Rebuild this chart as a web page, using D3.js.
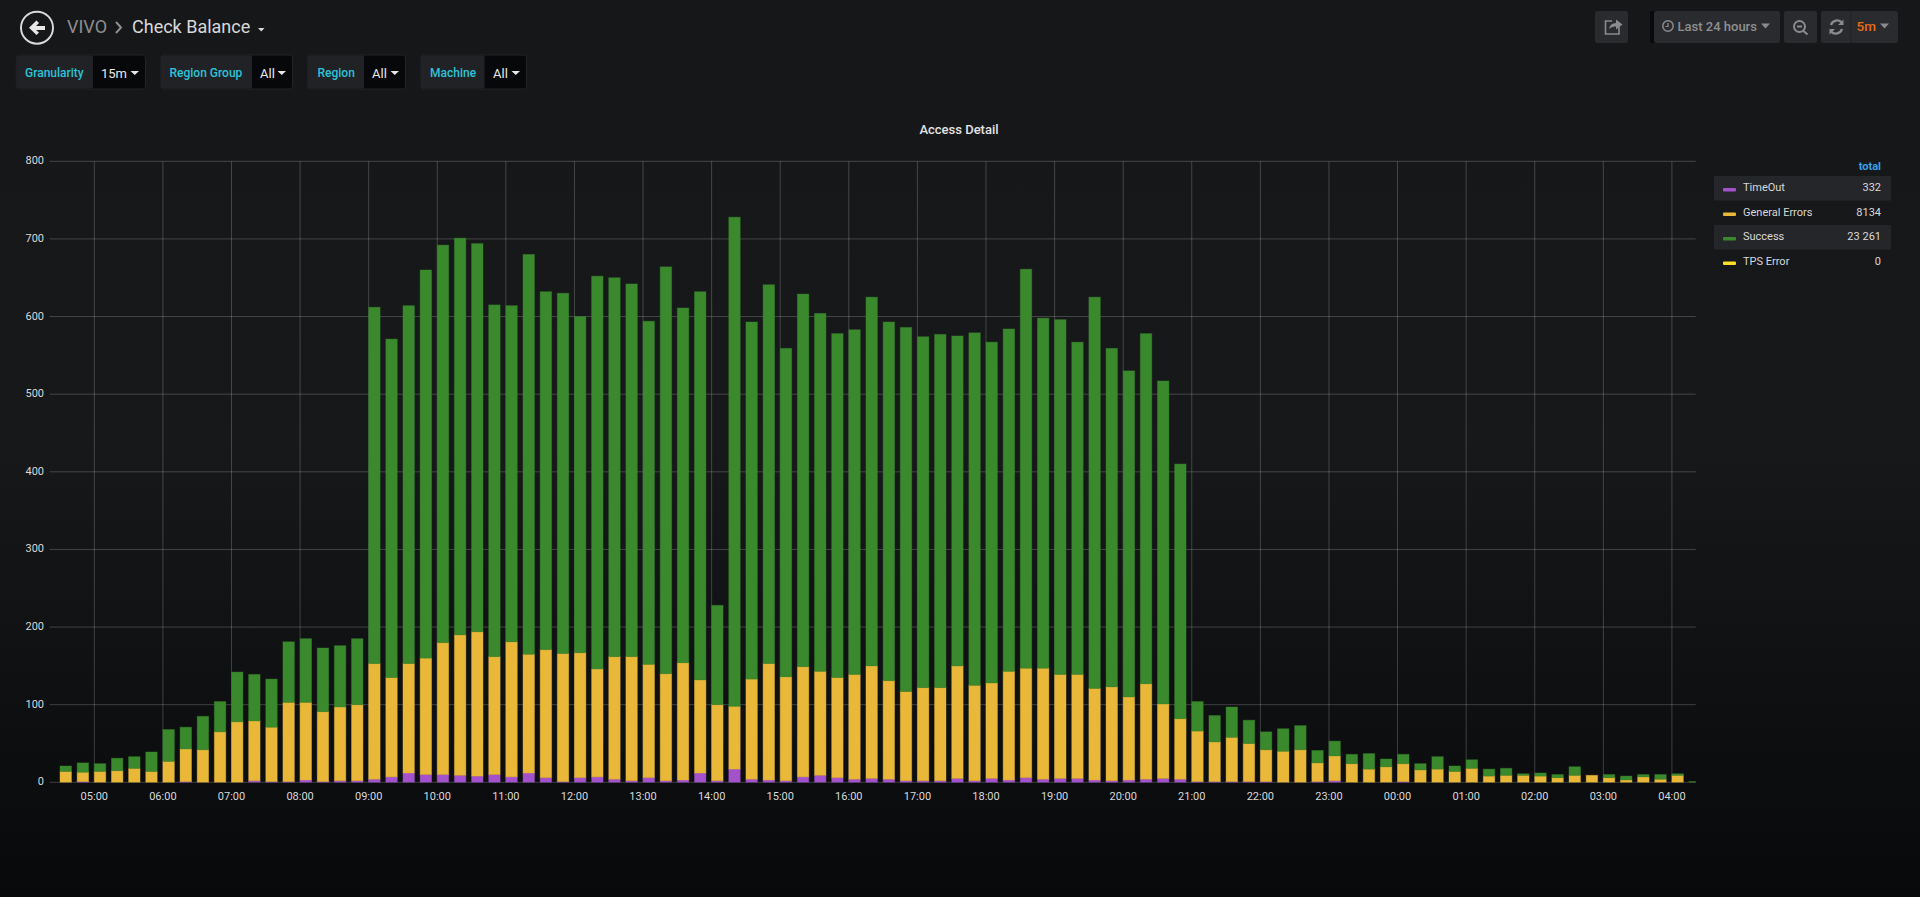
<!DOCTYPE html>
<html><head><meta charset="utf-8"><title>Check Balance</title>
<script src="https://cdn.jsdelivr.net/npm/d3@7"></script>
<style>
html,body{margin:0;padding:0;width:1920px;height:897px;overflow:hidden;background:#0b0c0e}
svg{display:block;font-family:Roboto,sans-serif}
</style></head><body><div id="chart"></div>
<script>
const timeLabels = ["05:00","06:00","07:00","08:00","09:00","10:00","11:00","12:00","13:00","14:00","15:00","16:00","17:00","18:00","19:00","20:00","21:00","22:00","23:00","00:00","01:00","02:00","03:00","04:00"];
const timeOut = [0,1,0,0,0,0,0,1,0,0,0,2,1,1,3,1,2,2,4,7,12,10,10,9,8,10,7,12,6,1,6,7,4,2,6,2,3,12,2,17,4,3,2,7,9,6,4,5,4,2,2,2,5,2,5,3,6,4,5,5,3,2,3,4,5,4,1,1,1,1,1,0,0,1,2,0,0,0,1,0,0,0,0,0,0,0,0,0,0,0,0,0,0,0,0,0];
const generalErrors = [14,12,14,15,18,14,27,42,42,65,78,77,70,102,100,90,95,98,149,128,141,150,170,181,186,152,174,153,165,165,161,139,158,160,146,138,151,120,98,81,129,150,134,142,134,129,135,145,127,115,120,120,145,123,123,140,141,143,134,134,118,121,107,123,96,78,65,51,57,49,41,40,42,24,32,24,17,20,23,16,17,14,18,8,9,9,8,6,9,9,6,3,7,4,9,0];
const success = [7,12,10,16,15,25,41,28,43,39,64,60,62,78,82,82,79,85,459,436,461,500,512,511,500,453,433,515,461,464,433,506,488,480,442,524,457,500,128,630,460,488,423,480,461,443,444,475,462,469,452,455,425,454,439,441,514,451,457,428,504,436,420,451,416,328,38,34,39,30,23,29,31,16,19,12,20,10,12,8,16,7,11,9,9,2,4,4,11,0,4,5,3,6,2,1];
const tpsError = success.map(() => 0);
const seriesNames = ["TimeOut","General Errors","Success","TPS Error"];
const seriesColors = ["#A352CC","#EAB839","#3A8A2D","#FADE2A"];
const seriesTotals = ["332","8134","23 261","0"];
const yTicks = [0,100,200,300,400,500,600,700,800];
const firstBar = new Date(2019,0,10,4,30);
const bars = success.map((_,i)=>({t:d3.timeMinute.offset(firstBar,15*i),v:[timeOut[i],generalErrors[i],success[i],tpsError[i]]}));

const svg = d3.select("#chart").append("svg").attr("width",1920).attr("height",897);
const defs = svg.append("defs");
const g0 = defs.append("linearGradient").attr("id","bg").attr("x1",0).attr("x2",0).attr("y1",0).attr("y2",1);
g0.append("stop").attr("offset","0").attr("stop-color","#161719");
g0.append("stop").attr("offset","0.5").attr("stop-color","#17181a");
g0.append("stop").attr("offset","1").attr("stop-color","#08090b");
svg.append("rect").attr("width",1920).attr("height",897).attr("fill","url(#bg)");
defs.append("clipPath").attr("id","plot").append("rect").attr("x",49.5).attr("y",150).attr("width",1646.2).attr("height",632.8);

const domainStart = new Date(2019,0,10,4,20,48);
const x = d3.scaleTime().domain([domainStart,d3.timeHour.offset(domainStart,24)]).range([49.5,1695.7]);
const y = d3.scaleLinear().domain([0,800]).range([782.3,161.3]);

// grid
const hours = d3.timeHour.range(domainStart,d3.timeHour.offset(domainStart,24));
const grid = svg.append("g").attr("stroke","#fff").attr("stroke-opacity",0.2).attr("stroke-width",1);
grid.selectAll(".v").data(hours).join("line").attr("x1",d=>x(d)).attr("x2",d=>x(d)).attr("y1",y(800)).attr("y2",y(0));
grid.selectAll(".h").data(yTicks).join("line").attr("x1",49.5).attr("x2",1695.7).attr("y1",d=>y(d)).attr("y2",d=>y(d));

// bars
const stack = svg.append("g").attr("clip-path","url(#plot)");
const barW = x(d3.timeMinute.offset(firstBar,10))-x(firstBar);
bars.forEach(b=>{
  let acc=0;
  b.v.forEach((val,k)=>{
    if(val<=0) return;
    stack.append("rect").attr("x",x(b.t)).attr("width",barW).attr("y",y(acc+val)).attr("height",y(acc)-y(acc+val))
      .attr("fill",seriesColors[k]).attr("stroke",seriesColors[k]).attr("stroke-opacity",0.4).attr("stroke-width",1);
    acc+=val;
  });
});

// axes labels
svg.append("g").selectAll("text").data(yTicks).join("text").attr("x",44).attr("y",d=>y(d)+3).attr("text-anchor","end")
  .attr("font-size",11).attr("fill","#d8d9da").text(d=>d);
svg.append("g").selectAll("text").data(hours).join("text").attr("x",d=>x(d)).attr("y",799.5).attr("text-anchor","middle")
  .attr("font-size",11).attr("fill","#d8d9da").text((d,i)=>timeLabels[i]);

// title
svg.append("text").attr("x",959).attr("y",134).attr("text-anchor","middle").attr("font-size",13).attr("font-weight",500).attr("fill","#e3e3e3").text("Access Detail");

// legend
svg.append("text").attr("x",1881).attr("y",169.5).attr("text-anchor","end").attr("font-size",11).attr("font-weight",700).attr("fill","#33a2e5").text("total");
const lg = svg.append("g").selectAll("g").data(seriesNames).join("g").attr("transform",(d,i)=>`translate(1714,${176+i*24.5})`);
lg.append("rect").attr("width",177).attr("height",24.5).attr("fill",(d,i)=>i%2==0?"#252629":"none");
lg.append("rect").attr("x",9).attr("y",12).attr("width",13).attr("height",3.5).attr("rx",1).attr("fill",(d,i)=>seriesColors[i]);
lg.append("text").attr("x",29).attr("y",15).attr("font-size",11).attr("fill","#d8d9da").text(d=>d);
lg.append("text").attr("x",167).attr("y",15).attr("text-anchor","end").attr("font-size",11).attr("fill","#d8d9da").text((d,i)=>seriesTotals[i]);

// header: back button and breadcrumb
const hd = svg.append("g");
hd.append("circle").attr("cx",37).attr("cy",27.7).attr("r",16).attr("fill","none").attr("stroke","#d8d9da").attr("stroke-width",2);
hd.append("path").attr("d","M29 27.7 L36.5 20.5 L39 23 L36 26 L45 26 L45 30 L36 30 L39 32.5 L36.5 35 Z").attr("fill","#e8e8e8");
hd.append("text").attr("x",67).attr("y",32.5).attr("font-size",18).attr("fill","#8e8e8e").text("VIVO");
hd.append("path").attr("d","M116 22 L121 27.5 L116 33").attr("fill","none").attr("stroke","#8e8e8e").attr("stroke-width",2);
hd.append("text").attr("x",132).attr("y",32.5).attr("font-size",18).attr("fill","#d8d9da").text("Check Balance");
hd.append("path").attr("d","M258 28 L264.5 28 L261.2 31.5 Z").attr("fill","#d8d9da");

// template variables
const filters = [
  {label:"Granularity",value:"15m",a:16.3,b:93,c:145.5,tx:25,vx:101},
  {label:"Region Group",value:"All",a:161,b:252,c:292.5,tx:169.5,vx:260},
  {label:"Region",value:"All",a:308,b:364,c:405.5,tx:317.5,vx:372},
  {label:"Machine",value:"All",a:421,b:484.5,c:526.5,tx:430,vx:493}
];
const fg = svg.append("g").selectAll("g").data(filters).join("g");
fg.append("rect").attr("x",d=>d.a).attr("y",55).attr("width",d=>d.c-d.a).attr("height",34).attr("rx",3).attr("fill","#07080a").attr("stroke","#232428");
fg.append("path").attr("d",d=>`M${d.b} 55.5 H${d.a+3} Q${d.a} 55.5 ${d.a} 58.5 V85.5 Q${d.a} 88.5 ${d.a+3} 88.5 H${d.b} Z`).attr("fill","#212226");
fg.append("text").attr("x",d=>d.tx).attr("y",77).attr("font-size",12).attr("font-weight",500).attr("fill","#2bc3d8").text(d=>d.label);
fg.append("text").attr("x",d=>d.vx).attr("y",77.5).attr("font-size",13).attr("fill","#e8e8e8").text(d=>d.value);
fg.append("path").attr("d",d=>`M${d.c-15} 71 h8.5 l-4.25 4 Z`).attr("fill","#e8e8e8");

// toolbar
const btns = [[1595,33],[1654,126],[1784,33],[1821,77]];
const tb = svg.append("g");
tb.append("rect").attr("x",1650).attr("y",11).attr("width",6).attr("height",32).attr("fill","#0a0a0c");
tb.selectAll("rect.b").data(btns).join("rect").attr("class","b").attr("x",d=>d[0]).attr("y",11).attr("width",d=>d[1]).attr("height",32).attr("rx",2.5).attr("fill","#2a2b2e");
const ic = "#8a8b8d";
tb.append("line").attr("x1",1851).attr("x2",1851).attr("y1",11).attr("y2",43).attr("stroke","#212225");
// share icon
tb.append("path").attr("d","M1619 27 V34 H1605.5 V21 H1612").attr("fill","none").attr("stroke",ic).attr("stroke-width",1.6);
tb.append("path").attr("d","M1609 29 Q1610 23 1616 23 V19.5 L1622.5 24.5 L1616 29.5 V26.5 Q1612 26 1609 29 Z").attr("fill",ic);
// clock
tb.append("circle").attr("cx",1668).attr("cy",26).attr("r",5.2).attr("fill","none").attr("stroke",ic).attr("stroke-width",1.5);
tb.append("path").attr("d","M1668 23 V26.5 H1665.5").attr("fill","none").attr("stroke",ic).attr("stroke-width",1.2);
tb.append("text").attr("x",1677.5).attr("y",31).attr("font-size",13).attr("font-weight",500).attr("fill","#8e8f91").text("Last 24 hours");
tb.append("path").attr("d","M1761 23.5 h9 l-4.5 5 Z").attr("fill",ic);
// zoom out
tb.append("circle").attr("cx",1799.5).attr("cy",26.5).attr("r",5.5).attr("fill","none").attr("stroke",ic).attr("stroke-width",2);
tb.append("path").attr("d","M1797 26.5 H1802 M1803.5 31 L1807.5 34.5").attr("fill","none").attr("stroke",ic).attr("stroke-width",2);
// refresh
tb.append("path").attr("d","M1831 25 A6.5 6.5 0 0 1 1842 22.5 M1842 29 A6.5 6.5 0 0 1 1831 31.5").attr("fill","none").attr("stroke",ic).attr("stroke-width",2.4);
tb.append("path").attr("d","M1843.5 19.5 V25 H1838 Z M1829.5 34.5 V29 H1835 Z").attr("fill",ic);
tb.append("text").attr("x",1856.5).attr("y",31).attr("font-size",13.5).attr("font-weight",500).attr("fill","#eb6c15").text("5m");
tb.append("path").attr("d","M1880 23.5 h9 l-4.5 5 Z").attr("fill",ic);
</script></body></html>
